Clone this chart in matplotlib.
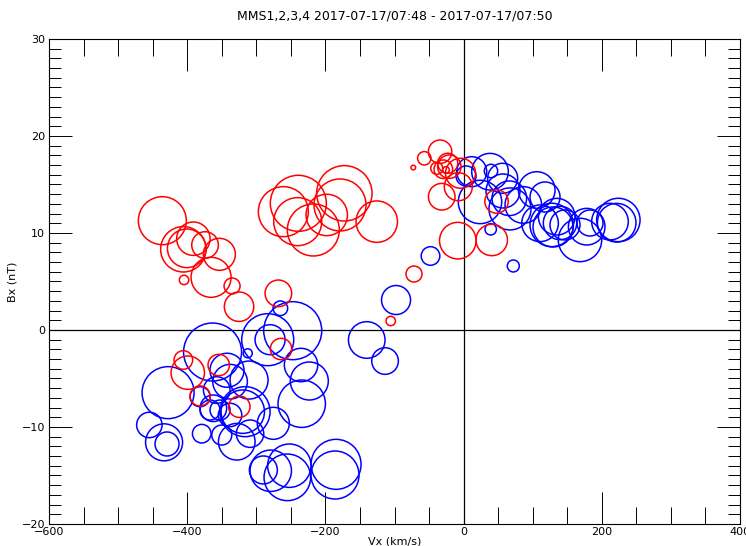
import numpy as np
import matplotlib.pyplot as plt
from matplotlib.ticker import MultipleLocator

# MMS1-4, 2017-07-17 07:48-07:50 : Vx vs Bx, circle size ~ third quantity
# red points
vx_red = [-436.0, -405.6, -400.7, -391.1, -374.2, -353.5, -365.5, -404.6, -335.1, -325.0,
          -268.1, -105.5, -260.9, -239.2, -240.1, -217.5, -198.1, -178.9, -172.6, -125.7,
          -405.6, -399.2, -381.4, -354.4, -324.6, -264.2,
          -34.1, -56.9, -72.8, -23.0, -29.4, -38.9, -25.5, -20.7, -31.7, -7.7,
          -4.5, 47.6, -8.4, 40.7, -71.8]
bx_red = [11.27, 8.32, 8.42, 9.41, 8.76, 7.80, 5.43, 5.16, 4.54, 2.40,
          3.78, 0.93, 12.20, 13.06, 11.17, 10.31, 11.86, 12.89, 14.09, 11.17,
          -3.09, -4.40, -6.80, -3.61, -7.91, -1.96,
          18.38, 17.70, 16.75, 17.19, 16.57, 16.67, 16.50, 16.84, 13.74, 14.77,
          16.16, 13.25, 9.21, 9.28, 5.77]
q_red = [24.0, 22.7, 19.3, 16.7, 13.3, 16.0, 20.0, 4.7, 8.0, 14.7,
         13.3, 4.7, 25.0, 28.0, 24.0, 26.0, 20.7, 26.0, 27.7, 20.7,
         9.3, 16.7, 10.0, 10.7, 10.7, 10.7,
         11.7, 6.7, 2.3, 10.0, 9.3, 6.0, 3.3, 11.7, 13.3, 14.0,
         15.0, 11.7, 18.3, 15.7, 8.0]

# blue points
vx_blue = [-363.3, -427.7, -454.8, -433.5, -429.2, -312.4, -342.4, -338.0, -310.5, -381.4,
           -357.3, -362.2, -352.5, -367.0, -338.0, -319.6, -316.3, -379.0, -350.0, -328.3,
           -309.1, -275.4, -247.3, -283.5, -280.1, -265.2, -235.3, -223.3, -234.3, -140.2,
           -113.7, -97.8, -47.9,
           -289.8, -279.1, -252.2, -255.1, -184.6, -186.1,
           11.7, 3.5, 38.2, 39.6, 23.7, 57.0, 67.1, 39.2, 71.9, 105.8,
           117.8, 110.6, 127.5, 134.7, 129.4, 139.5, 146.7, 168.4, 178.1, 182.9,
           211.8, 223.9, 221.5, 66.1, 86.4, 56.5]
bx_blue = [-2.27, -6.46, -9.79, -11.58, -11.75, -2.40, -4.15, -5.33, -5.16, -6.88,
           -6.19, -8.07, -8.25, -8.25, -8.76, -8.42, -8.42, -10.69, -10.83, -11.52,
           -10.69, -9.62, -0.07, -1.00, -1.00, 2.24, -3.61, -5.26, -7.60, -1.03,
           -3.20, 3.09, 7.63,
           -14.43, -14.51, -13.99, -15.19, -13.85, -14.95,
           16.32, 15.88, 16.32, 16.39, 13.20, 14.33, 12.48, 10.38, 6.60, 14.43,
           13.71, 11.00, 10.83, 11.68, 10.62, 11.03, 10.83, 9.28, 10.65, 11.03,
           11.17, 11.34, 11.06, 13.58, 12.89, 15.64]
q_blue = [29.0, 26.0, 12.7, 18.5, 12.0, 4.5, 17.0, 17.3, 19.0, 10.0,
          13.3, 13.3, 10.0, 10.0, 11.7, 21.7, 25.0, 9.3, 10.0, 18.3,
          13.7, 16.0, 29.0, 26.0, 15.0, 7.3, 16.7, 19.0, 23.7, 18.3,
          13.3, 14.5, 9.3,
          14.0, 20.7, 21.7, 23.3, 25.0, 24.0,
          15.0, 10.0, 18.3, 6.7, 21.7, 17.0, 21.0, 5.7, 6.0, 18.3,
          15.0, 18.3, 21.7, 18.3, 20.0, 16.7, 15.0, 21.7, 18.3, 13.0,
          18.3, 21.7, 19.3, 17.3, 18.3, 15.0]


def area(q):
    # circle radius in px ~ q  ->  marker area in pt^2 (dpi 100)
    return (2 * np.array(q) * 0.72) ** 2


fig = plt.figure(figsize=(7.46, 5.46), dpi=100)
ax = fig.add_axes([0.0657, 0.0403, 0.9263, 0.8883])

ax.axhline(0, color='black', lw=0.9, zorder=1)
ax.axvline(0, color='black', lw=0.9, zorder=1)

ax.scatter(vx_blue, bx_blue, s=area(q_blue), facecolors='none', edgecolors='#0000ff', linewidths=1.1, zorder=2)
ax.scatter(vx_red, bx_red, s=area(q_red), facecolors='none', edgecolors='#ff0000', linewidths=1.1, zorder=3)

ax.set_xlim(-600, 400)
ax.set_ylim(-20, 30)
ax.xaxis.set_major_locator(MultipleLocator(200))
ax.xaxis.set_minor_locator(MultipleLocator(50))
ax.yaxis.set_major_locator(MultipleLocator(10))
ax.yaxis.set_minor_locator(MultipleLocator(1))

ax.tick_params(axis='both', which='both', direction='in', top=True, right=True,
               width=0.7, labelsize=8, color='black')
ax.tick_params(axis='x', which='major', length=23, pad=2)
ax.tick_params(axis='x', which='minor', length=12)
ax.tick_params(axis='y', which='major', length=16.5, pad=3)
ax.tick_params(axis='y', which='minor', length=8.5)
for s in ax.spines.values():
    s.set_linewidth(0.8)

ax.set_xlabel('Vx (km/s)', fontsize=8, labelpad=0)
ax.set_ylabel('Bx (nT)', fontsize=8, labelpad=3)
ax.set_title('MMS1,2,3,4 2017-07-17/07:48 - 2017-07-17/07:50', fontsize=9, pad=14)

fig.savefig('out.png', dpi=100)
